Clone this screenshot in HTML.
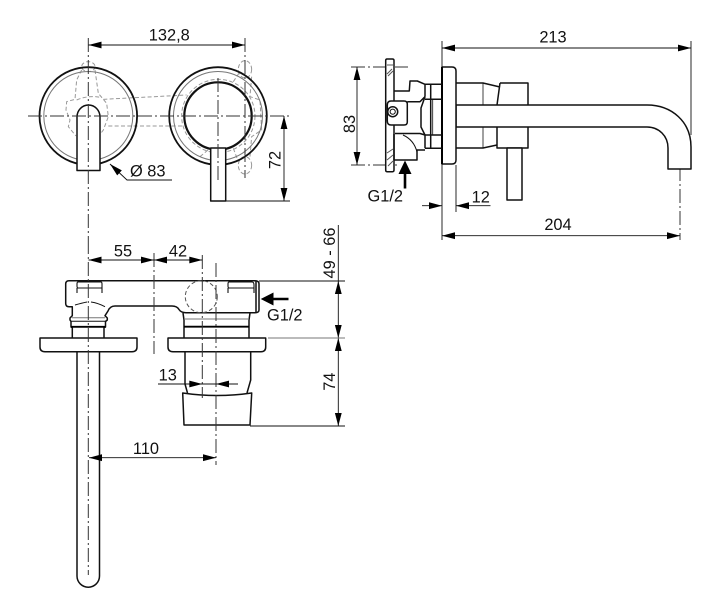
<!DOCTYPE html>
<html>
<head>
<meta charset="utf-8">
<style>
html,body{margin:0;padding:0;background:#fff;width:720px;height:616px;overflow:hidden}
svg{display:block}
text{font-family:"Liberation Sans",sans-serif;font-size:16.4px;fill:#111}
.m{fill:none;stroke:#111;stroke-width:1.5;stroke-linejoin:round}
.w{fill:#fff;stroke:#111;stroke-width:1.5;stroke-linejoin:round}
.t{fill:none;stroke:#111;stroke-width:.9}
.g{fill:none;stroke:#777;stroke-width:1}
.d{fill:none;stroke:#333;stroke-width:1;stroke-dasharray:14 3 2 3}
.h{fill:none;stroke:#999;stroke-width:1;stroke-dasharray:4 2.5}
.a{fill:#000}
</style>
</head>
<body>
<svg width="720" height="616" viewBox="0 0 720 616" xmlns="http://www.w3.org/2000/svg">
<defs>
<polygon id="ar" class="a" points="0,0 13,-3.4 13,3.4"/>
</defs>

<!-- TOP VIEW -->
<g transform="translate(20,20) scale(.3333)">
  <g class="h" style="stroke-width:3;stroke-dasharray:12 7">
    <ellipse cx="205" cy="140" rx="20" ry="15"/>
    <ellipse cx="205" cy="436" rx="20" ry="15"/>
    <path d="M185 150L170 180L165 238L140 245L138 270L150 300L145 320L168 348"/>
    <path d="M225 150L235 220L260 250L265 290L250 330L235 350"/>
    <path d="M170 240Q205 225 240 232M172 348Q205 355 240 345"/>
    <path d="M250 238L500 225M265 318L490 318"/>
    <circle cx="595" cy="288" r="110"/>
    <ellipse cx="675" cy="148" rx="20" ry="26"/>
    <ellipse cx="675" cy="436" rx="20" ry="26"/>
    <path d="M640 185L660 155M695 170L690 230L720 240L725 330L695 350L690 410M540 410L570 385M640 385L655 425"/>
  </g>
</g>
<circle cx="88.3" cy="116" r="48.8" fill="none" stroke="#111" stroke-width="1.8"/>
<circle cx="88.3" cy="116" r="44.5" class="g"/>
<circle cx="218" cy="116" r="48.8" fill="none" stroke="#111" stroke-width="1.8"/>
<circle cx="218" cy="116" r="44.5" class="g"/>
<circle cx="218" cy="116" r="33.7" fill="#fff" stroke="#111" stroke-width="2.2"/>
<path class="w" d="M77 170.5V117A11.5 12 0 0 1 100 117V170.5Z"/>
<rect class="w" x="210.7" y="148" width="15" height="53"/>
<path class="d" d="M28 116H290"/>
<path class="d" d="M88.3 38V240"/>
<path class="d" d="M218 78V182"/>
<path class="d" d="M245 38V178"/>

<path class="t" d="M88.5 45H245"/>
<use href="#ar" x="88.5" y="45"/>
<use href="#ar" transform="translate(245,45) rotate(180)"/>
<text x="169.3" y="40.7" text-anchor="middle">132,8</text>

<path class="t" d="M284 116V201M225.7 201H290"/>
<use href="#ar" transform="translate(284,116) rotate(90)"/>
<use href="#ar" transform="translate(284,201) rotate(-90)"/>
<text transform="translate(280.7,160) rotate(-90)" text-anchor="middle">72</text>

<path class="t" d="M110 164L127 180H172"/>
<use href="#ar" transform="translate(110,164) rotate(43)"/>
<text x="130" y="176.7">Ø 83</text>

<!-- SIDE VIEW -->
<path class="t" d="M442 41V240M691 41V135M456 165V212"/>
<path class="d" d="M351 67H408M351 165H397"/>
<path class="d" d="M680 145V240"/>

<path class="m" d="M456 83H483L500 87M456 148H483L497 145"/>
<path class="m" d="M483 83V148" style="stroke-width:.8"/>
<path class="m" d="M500 83H528V148H497L497 127M500 83L497 105M528 105V127"/>
<path class="w" d="M507 148H522V200H507Z" />
<path class="w" d="M456 105H647C672 105 691 122 691 147V169H668V148C668 136 659 127 647 127H456Z"/>
<path class="w" d="M442 67H452Q456 67 456 71V160Q456 164 452 164H442Z"/>
<path d="M442 67V164" stroke="#000" stroke-width="2" fill="none"/>

<!-- valve body -->
<path class="w" d="M385.7 60.5Q385.7 59 387 59H392.5Q394 59 394 60.5V170Q394 171.7 392.5 171.7H387Q385.7 171.7 385.7 170Z"/>
<path class="g" d="M387 65H393M388 76L393 71M387 74L392 69M387 153L393 149M387 160L393 155M388 166L393 161" style="stroke:#555"/>
<path class="m" d="M394.5 91H409.3L410 81H417.3L425 84.3H441.7M425 84.3V96.7M430.7 84.3V148.3M425 99.3H441.7M425 135H441.7M425 148.3H441.7M425 135V148.3"/>
<path class="m" d="M432.7 99.3V135" style="stroke-width:.8"/>
<path class="m" d="M425 96.7L421 108V127L425 135L420 133.5H395"/>
<path class="w" d="M391 101H404Q407.3 101 407.3 104V122Q407.3 125 404 125H391Q387.3 125 387.3 121V105Q387.3 101 391 101Z"/>
<path class="m" d="M407.3 101.7H420L425 96.7"/>
<circle cx="392.7" cy="111.7" r="5" class="m"/>
<circle cx="392.7" cy="111.7" r="2.6" class="m" style="stroke-width:1"/>
<path class="m" d="M394 134V160H417V150H425"/>
<path class="m" d="M403 135Q414 140 417 152" style="stroke-width:1"/>

<path class="t" d="M357 67V165"/>
<use href="#ar" transform="translate(357,67) rotate(90)"/>
<use href="#ar" transform="translate(357,165) rotate(-90)"/>
<text transform="translate(355,124) rotate(-90)" text-anchor="middle">83</text>

<path d="M405 188.5V170" stroke="#000" stroke-width="2.6" fill="none"/>
<polygon class="a" points="405,160.5 411.5,174 398.5,174"/>
<text x="367.5" y="201.7">G1/2</text>

<path class="t" d="M442 48H691M442 235.7H680"/>
<use href="#ar" x="442" y="48"/>
<use href="#ar" transform="translate(691,48) rotate(180)"/>
<use href="#ar" x="442" y="235.7"/>
<use href="#ar" transform="translate(680,235.7) rotate(180)"/>
<text x="553" y="42.7" text-anchor="middle">213</text>
<text x="558" y="230" text-anchor="middle">204</text>

<path class="t" d="M422 205.7H442M456 205.7H490.5"/>
<use href="#ar" transform="translate(442,205.7) rotate(180)"/>
<use href="#ar" x="456" y="205.7"/>
<text x="480.7" y="202.7" text-anchor="middle">12</text>

<!-- FRONT VIEW -->
<path class="m" d="M77 352V576A11 11 0 0 0 99.5 576V352"/>
<path class="m" d="M185 352V384L187.5 393M250.7 352V380L247 393"/>
<path class="w" d="M182.7 393Q217 398 251.7 393L250 425H184Z"/>

<path class="m" d="M72.3 338V327.5L71 327V321.5L70 320V318L72.3 315.7V306.7H69Q65.7 306.7 65.7 303.5V284Q65.7 280.7 69 280.7H255Q259 280.7 259 284V310Q259 312.7 255 312.7H186Q181 312.7 179 309.5Q177 306 172 306H115Q110 306 108 311L105 315.7L107.3 318V320L105.5 321.5V327L104 327.5V338"/>
<path class="m" d="M70.5 321.3H106.5" style="stroke-width:1"/>
<path class="g" d="M72 317.7H105"/>
<path d="M71 326.8H105.5" stroke="#000" stroke-width="1.8" fill="none"/>
<path class="m" d="M256 281V313"/>
<path class="m" d="M75 305Q82 303 87 302M91 302Q98 303 105 306.7" style="stroke-width:1"/>
<path class="m" d="M78 282H101Q102 282 102 284V288H78Q77 288 77 286V284Q77 282 78 282ZM77 288V293M102 288V293M229 282H252Q254 282 254 285V288H229Q228 288 228 286V284Q228 282 229 282ZM228 288V293M254 288V293" style="stroke-width:1.1"/>
<circle cx="201.3" cy="296.7" r="16" class="h" style="stroke:#555"/>
<path class="m" d="M183 313L184 320V338M250 313L249 320V338"/>
<path class="g" d="M184 319H249"/>
<path d="M184 326.7H249" stroke="#000" stroke-width="1.8" fill="none"/>
<path class="w" d="M40 338H137V347Q137 351.7 132 351.7H45Q40 351.7 40 347Z"/>
<path class="w" d="M168 338H265.7V347Q265.7 351.7 261 351.7H173Q168 351.7 168 347Z"/>

<path class="d" d="M88.3 240V575"/>
<path class="d" d="M154 253V354"/>
<path class="d" d="M202.3 255V398"/>
<path class="d" d="M216 263V465"/>

<path class="t" d="M88.5 260H202.3"/>
<use href="#ar" x="88.5" y="260"/>
<use href="#ar" transform="translate(154,260) rotate(180)"/>
<use href="#ar" x="154" y="260"/>
<use href="#ar" transform="translate(202.3,260) rotate(180)"/>
<text x="123" y="256.7" text-anchor="middle">55</text>
<text x="178" y="256.7" text-anchor="middle">42</text>

<path class="t" d="M338.3 225V426M259 281H345M250 426H345"/>
<path class="g" d="M268 338H345"/>
<use href="#ar" transform="translate(338.3,281) rotate(90)"/>
<use href="#ar" transform="translate(338.3,338) rotate(-90)"/>
<use href="#ar" transform="translate(338.3,338) rotate(90)"/>
<use href="#ar" transform="translate(338.3,426) rotate(-90)"/>
<text transform="translate(335,253) rotate(-90)" text-anchor="middle">49 - 66</text>
<text transform="translate(335,381.7) rotate(-90)" text-anchor="middle">74</text>

<path d="M272 299H288.5" stroke="#000" stroke-width="2.6" fill="none"/>
<polygon class="a" points="260.7,299 273.5,292.5 273.5,305.5"/>
<text x="267" y="320.7">G1/2</text>

<path class="t" d="M158 384H238"/>
<use href="#ar" transform="translate(202.3,384) rotate(180)"/>
<use href="#ar" x="216" y="384"/>
<text x="167.7" y="380.7" text-anchor="middle">13</text>

<path class="t" d="M89 457.7H216"/>
<use href="#ar" x="89" y="457.7"/>
<use href="#ar" transform="translate(216,457.7) rotate(180)"/>
<text x="146" y="454" text-anchor="middle">110</text>
</svg>
</body>
</html>
